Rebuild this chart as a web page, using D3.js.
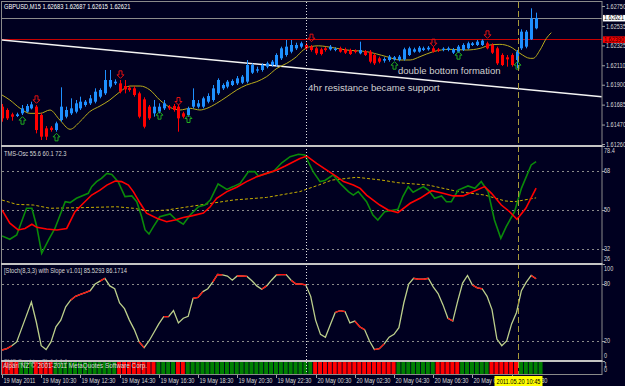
<!DOCTYPE html>
<html>
<head>
<meta charset="utf-8">
<script src="https://cdn.jsdelivr.net/npm/d3@7"></script>
<style>
  body { margin: 0; background: #000020; }
  svg { display: block; font-family: "Liberation Sans", Arial, sans-serif; }
</style>
</head>
<body>
<div id="wrapper"></div>
<script>
// GBPUSD M15 bars, 19 May 2011 08:30 .. 20 May 2011 11:45
const opens = [1.61663,1.61627,1.61580,1.61562,1.61591,1.61609,1.61645,1.61663,1.61573,1.61429,
  1.61436,1.61411,1.61519,1.61555,1.61591,1.61609,1.61645,1.61681,1.61699,1.61717,
  1.61771,1.61807,1.61879,1.61915,1.61915,1.61886,1.61868,1.61861,1.61807,1.61742,
  1.61663,1.61591,1.61609,1.61645,1.61663,1.61670,1.61663,1.61591,1.61573,1.61663,
  1.61663,1.61663,1.61717,1.61735,1.61807,1.61861,1.61879,1.61897,1.61915,1.61922,
  1.61933,1.62030,1.62052,1.62059,1.62095,1.62113,1.62113,1.62185,1.62221,1.62257,
  1.62293,1.62311,1.62329,1.62311,1.62293,1.62282,1.62293,1.62282,1.62275,1.62293,
  1.62282,1.62275,1.62268,1.62239,1.62264,1.62257,1.62221,1.62185,1.62160,1.62167,
  1.62174,1.62167,1.62174,1.62221,1.62257,1.62257,1.62275,1.62282,1.62293,1.62282,
  1.62275,1.62275,1.62246,1.62257,1.62275,1.62293,1.62329,1.62329,1.62329,1.62347,
  1.62329,1.62293,1.62221,1.62196,1.62221,1.62167,1.62293,1.62311,1.62390,1.62509]
const highs = [1.61692,1.61645,1.61598,1.61598,1.61681,1.61692,1.61717,1.61681,1.61591,1.61454,
  1.61454,1.61501,1.61872,1.61663,1.61753,1.61735,1.61771,1.61735,1.61789,1.61861,
  1.61861,1.62059,1.62059,1.61958,1.61951,1.61951,1.61886,1.61886,1.61825,1.61764,
  1.61681,1.61735,1.61699,1.61735,1.61681,1.61692,1.61681,1.61609,1.61663,1.61861,
  1.61735,1.61771,1.61807,1.61897,1.61969,1.61915,1.61951,1.61958,1.61994,1.62005,
  1.62167,1.62131,1.62095,1.62131,1.62149,1.62167,1.62239,1.62311,1.62383,1.62383,
  1.62354,1.62365,1.62354,1.62329,1.62311,1.62300,1.62311,1.62329,1.62304,1.62311,
  1.62300,1.62289,1.62282,1.62365,1.62275,1.62275,1.62239,1.62203,1.62196,1.62221,
  1.62210,1.62221,1.62300,1.62311,1.62300,1.62318,1.62311,1.62318,1.62311,1.62297,
  1.62304,1.62311,1.62297,1.62329,1.62347,1.62365,1.62361,1.62383,1.62390,1.62365,
  1.62347,1.62311,1.62239,1.62221,1.62239,1.62275,1.62498,1.62491,1.62725,1.62678]
const lows = [1.61501,1.61519,1.61512,1.61551,1.61573,1.61598,1.61634,1.61375,1.61303,1.61303,
  1.61393,1.61393,1.61501,1.61537,1.61573,1.61591,1.61627,1.61663,1.61681,1.61699,
  1.61753,1.61789,1.61861,1.61897,1.61807,1.61807,1.61825,1.61771,1.61537,1.61429,
  1.61519,1.61555,1.61591,1.61627,1.61627,1.61609,1.61393,1.61537,1.61555,1.61645,
  1.61645,1.61645,1.61699,1.61717,1.61789,1.61843,1.61861,1.61886,1.61897,1.61908,
  1.61915,1.62016,1.62030,1.62041,1.62077,1.62095,1.62095,1.62167,1.62203,1.62239,
  1.62275,1.62293,1.62275,1.62257,1.62221,1.62217,1.62257,1.62268,1.62261,1.62246,
  1.62232,1.62221,1.62239,1.62228,1.62210,1.62131,1.62113,1.62131,1.62138,1.62149,
  1.62160,1.62153,1.62160,1.62210,1.62246,1.62246,1.62264,1.62268,1.62246,1.62253,
  1.62261,1.62261,1.62232,1.62246,1.62264,1.62282,1.62318,1.62318,1.62318,1.62282,
  1.62232,1.62113,1.62102,1.62095,1.62095,1.62077,1.62275,1.62293,1.62383,1.62498]
const closes = [1.61537,1.61537,1.61555,1.61580,1.61645,1.61670,1.61688,1.61411,1.61339,1.61339,
  1.61411,1.61483,1.61663,1.61627,1.61645,1.61699,1.61717,1.61717,1.61753,1.61825,
  1.61843,1.61951,1.61951,1.61933,1.61825,1.61850,1.61843,1.61789,1.61555,1.61447,
  1.61537,1.61663,1.61663,1.61699,1.61645,1.61627,1.61537,1.61555,1.61645,1.61735,
  1.61699,1.61753,1.61778,1.61861,1.61951,1.61897,1.61933,1.61940,1.61969,1.61987,
  1.62113,1.62113,1.62066,1.62113,1.62131,1.62149,1.62221,1.62293,1.62311,1.62329,
  1.62329,1.62347,1.62293,1.62275,1.62239,1.62232,1.62275,1.62311,1.62289,1.62257,
  1.62246,1.62232,1.62253,1.62275,1.62221,1.62149,1.62131,1.62149,1.62178,1.62203,
  1.62196,1.62203,1.62282,1.62293,1.62282,1.62300,1.62293,1.62300,1.62257,1.62268,
  1.62289,1.62293,1.62282,1.62311,1.62329,1.62347,1.62347,1.62365,1.62376,1.62293,
  1.62246,1.62131,1.62113,1.62174,1.62113,1.62257,1.62473,1.62473,1.62617,1.62621]

// moving average, read as [bar, price]
const maPoints = [[0,1.61789],[1.6,1.61735],[3.7,1.61645],[5.7,1.61591],[7.8,1.61591],[9.8,1.61627],
  [11.8,1.61519],[13.9,1.61419],[15.9,1.61501],[17.9,1.61609],[20,1.61670],[22,1.61735],[24.1,1.61825],
  [26.1,1.61886],[28.2,1.61886],[30.2,1.61843],[32.2,1.61735],[34.3,1.61656],[36.3,1.61627],[38.4,1.61645],
  [40.4,1.61627],[41.8,1.61645],[43.8,1.61699],[45.9,1.61771],[47.9,1.61843],[49.9,1.61897],[52,1.61933],
  [54,1.61987],[56.1,1.62077],[58.1,1.62131],[60.1,1.62203],[61.5,1.62275],[62.9,1.62311],[64.6,1.62320],
  [66.3,1.62311],[68.3,1.62293],[70.3,1.62275],[74.4,1.62257],[78.5,1.62203],[81.2,1.62167],[83.3,1.62167],
  [85.3,1.62203],[88,1.62257],[91.4,1.62282],[94.8,1.62275],[97.6,1.62293],[99.6,1.62329],[101.6,1.62336],
  [103.7,1.62311],[105.7,1.62239],[107.8,1.62185],[108.4,1.62185],[109.8,1.62275],[111.1,1.62401],[112.1,1.62462]]

// signal arrows [bar, price at arrow tip]
const upArrows = [[4,1.61555],[11,1.61375],[32,1.61609],[38,1.61573],[80,1.62149],[93,1.62257],[105,1.62149]]
const downArrows = [[7,1.61699],[24,1.61969],[36,1.61681],[63,1.62365],[88,1.62311],[99,1.62401]]

// hand drawn objects
const trendLine = [[0,1.62383],[122.4,1.61771]]
const redLevel = 1.62390
const bidPrice = 1.62621
const priceTicks = [1.62750,1.62535,1.62325,1.62110,1.61900,1.61685,1.61470,1.61260]

// TMS oscillator, [bar, value]
const tmsGreen = [[0,38],[1.6,36.5],[3,38.5],[5,50.8],[6.1,50.8],[7.1,42.3],[8.1,30],[9.5,36.2],[10.8,41.5],
  [12.9,53.8],[13.9,53.4],[15.2,55.4],[17.6,57.7],[18.3,60.8],[19.3,63.1],[20.3,64.6],[21.4,66.9],[22.4,66.4],
  [23.7,63.1],[25.1,56.2],[26.5,56.5],[27.5,53.8],[28.5,46.9],[29.2,40.8],[30,38.9],[30.9,42.3],[32.2,46.9],
  [34.3,48.2],[35.6,45.4],[37,43.4],[38.4,47.7],[40.1,51.5],[41.4,52.3],[42.5,54.6],[44.1,62],[45.9,59.5],
  [47.2,60.8],[48.6,62.3],[50.3,67.7],[51.6,67.7],[52.3,65.7],[54,66.9],[55.4,67.7],[57.1,71.8],[58.8,74.6],
  [60.5,75.7],[61.8,75.4],[63.5,67.7],[64.9,63.1],[65.9,63.6],[67.6,66.2],[69,62.3],[70.7,58.5],[71.7,56.9],
  [72.7,58.5],[74.4,53.8],[75.7,47.7],[76.7,45.4],[78.1,49.2],[80.8,50.3],[81.8,56.2],[82.9,60.8],[83.9,58.2],
  [86,60.8],[87,59.2],[88.3,55.4],[89.7,56.5],[90.7,53.8],[91.7,53.8],[93.1,59.2],[95.1,61.1],[96.5,60],
  [97.8,63.1],[99.2,58.5],[100.5,45.4],[101.8,36.9],[102.9,42.3],[104.6,49.2],[106,60],[108,70.8],[109,72.3]]
const tmsRed = [[0,50],[1.6,43.9],[3.3,40.8],[4.7,41.5],[6.1,43.4],[7.1,42],[9.1,41.2],[11.2,40.8],[13.2,41.5],
  [14.9,49.2],[16.6,53.1],[18.3,56.9],[20,59.2],[21.4,61.5],[23.1,63.4],[24.4,63.1],[25.8,61.5],[26.8,58.5],
  [28.2,53.1],[29.5,48.5],[31.6,46.2],[33.6,44.6],[35.3,45.4],[37,46.5],[38.7,47.3],[41.1,48.6],[42.5,51.5],
  [43.8,55.4],[45.9,58.5],[47.9,60.5],[49.9,63.1],[52,65.4],[54,66.9],[56.1,68.5],[57.8,70.3],[59.5,72.3],
  [60.8,73.8],[62.2,74.9],[64.2,71.5],[66.2,68.5],[68.3,65.4],[69.7,63.1],[71.7,61.5],[73.1,60],[74.4,56.9],
  [77.1,52.3],[78.8,50],[80.8,48.8],[83.3,53.1],[85.3,55.4],[87.7,58.9],[90,57.7],[92.1,56.5],[94.1,56.5],
  [96.2,58.5],[98.5,60.8],[99.9,57.7],[101.9,52.3],[103.6,49.2],[105.1,45.7],[106.9,50.8],[109,60.1]]
const tmsSignal = [[0,54.6],[3,52.6],[6.4,52.3],[9.8,50.8],[16.6,51.1],[23.4,51.5],[26.8,50.8],[30.2,49.5],
  [33.6,50],[40.4,52.3],[47.2,54.6],[54,55.8],[60.8,58.5],[64.6,61.5],[67.3,63.8],[72.4,65.1],[77.5,63.8],
  [80.8,62.6],[87,61.5],[93.1,58.5],[98.5,56.9],[102.6,54.2],[104.6,53.8],[109,55.6]]
const tmsTicks = [68, 50, 32]

// Stochastic(8,3,3), one value per bar
const stoch = [10.5,12,15,19,33,47,61,40,15,11,19,35,42,56,63,67,69,71,73,80,
  83,86,78,75,60,54,42,32,19,13,20,29,38,45.6,45.6,52,39,44,46,65,
  66,72,75,82,90,89.5,88.4,84,88.4,88.4,88,83.4,78,74.4,78,84,89.5,89.8,89.8,84,
  80,80,79,67,42,27,24,37,50,52,51,39,41,35,32,20,11,12,17,24,
  27,34,60,80,86,85,85,86,77,70,58,44,41,62,81,89,79,76,75,67,
  53,22,15,20,38,50,73,82,89,85.5]
// bar ranges where the slope colour turns red
const stochRed = [[0,2],[14,18],[20,21],[28,29],[33,34],[39,41],[43,45],[48,50],[53,54],[56,58],[59,62],
  [68,70],[72,74],[76,78],[84,87],[91,92],[96,98],[108,109]]
const stochTicks = [80, 20]

// TMS Combine TL state per bar: R = down, G = up
const trendState = "RRRRGGGRRRRGGGGGGGGGGGGGRRRRRRRRGGGGRRGGGGGGGGGGGGGGGGGGGGGGGGGGRRRRRRRRRRRRRRRRRGGGGGGGGRRRRRGGGGGGRRRRRRGGGGG".split("")

const tickBars = [0,8,16,24,32,40,48,56,64,72,80,88,96,104]
const tickLabels = ["19 May 2011","19 May 10:30","19 May 12:30","19 May 14:30","19 May 16:30","19 May 18:30",
  "19 May 20:30","19 May 22:30","20 May 00:30","20 May 02:30","20 May 04:30","20 May 06:30","20 May 08:30","20 May 10:30"]
const dayBreakBar = 62
const cursorBar = 105
const cursorLabel = "2011.05.20 10:45"

function drawChart() {
  const dimensions = { width: 625, height: 386, left: 2, right: 602 }
  const panels = {
    main:  { top: 2,   bottom: 145 },
    tms:   { top: 147, bottom: 263 },
    stoch: { top: 265, bottom: 360 },
    hist:  { top: 362, bottom: 374 },
  }
  const bull = "#1e90ff", bear = "#ff0000"
  const textColor = "#d8d8d8"

  const wrapper = d3.select("#wrapper")
    .append("svg")
      .attr("width", dimensions.width)
      .attr("height", dimensions.height)

  wrapper.append("rect")
      .attr("width", dimensions.width)
      .attr("height", dimensions.height)
      .attr("fill", "#000020")

  // scales
  const xScale = d3.scaleLinear().domain([0, 109]).range([2, 536.1])
  const yPrice = d3.scaleLinear().domain([1.6126, 1.6275]).range([144, 6])
  const yTms = d3.scaleLinear().domain([32, 68]).range([249, 171])
  const yStoch = d3.scaleLinear().domain([0, 100]).range([360, 265])
  const yHist = d3.scaleLinear().domain([0, 1]).range([374, 362])
  const px = i => Math.round(xScale(i)) + 0.5

  const defs = wrapper.append("defs")
  const layer = {}
  Object.entries(panels).forEach(([name, p]) => {
    defs.append("clipPath").attr("id", "clip-" + name)
      .append("rect")
        .attr("x", dimensions.left)
        .attr("y", p.top)
        .attr("width", dimensions.right - dimensions.left)
        .attr("height", p.bottom - p.top)
    layer[name] = wrapper.append("g").attr("clip-path", `url(#clip-${name})`)
  })

  const squeeze = (sel, k) => sel.each(function() {
    const w = this.getComputedTextLength()
    d3.select(this).attr("textLength", w * k).attr("lengthAdjust", "spacingAndGlyphs")
  })

  // grid lines in the oscillator panels
  layer.tms.selectAll(".grid").data(tmsTicks).join("line")
      .attr("x1", dimensions.left).attr("x2", dimensions.right)
      .attr("y1", d => Math.round(yTms(d)) + 0.5).attr("y2", d => Math.round(yTms(d)) + 0.5)
      .attr("stroke", "#8a8a8a").attr("stroke-dasharray", "2,3")
  layer.stoch.selectAll(".grid").data(stochTicks).join("line")
      .attr("x1", dimensions.left).attr("x2", dimensions.right)
      .attr("y1", d => Math.round(yStoch(d)) + 0.5).attr("y2", d => Math.round(yStoch(d)) + 0.5)
      .attr("stroke", "#8a8a8a").attr("stroke-dasharray", "2,3")

  // price lines
  layer.main.append("line")
      .attr("x1", dimensions.left).attr("x2", dimensions.right)
      .attr("y1", Math.round(yPrice(bidPrice)) + 0.5).attr("y2", Math.round(yPrice(bidPrice)) + 0.5)
      .attr("stroke", "#8c8c8c")
  layer.main.append("line")
      .attr("x1", dimensions.left).attr("x2", dimensions.right)
      .attr("y1", Math.round(yPrice(redLevel)) + 0.5).attr("y2", Math.round(yPrice(redLevel)) + 0.5)
      .attr("stroke", "#c80000")

  // trend line
  layer.main.append("line")
      .attr("x1", xScale(trendLine[0][0])).attr("y1", yPrice(trendLine[0][1]))
      .attr("x2", xScale(trendLine[1][0])).attr("y2", yPrice(trendLine[1][1]))
      .attr("stroke", "#f4f4f4").attr("stroke-width", 1.6)

  // moving average
  const maLine = d3.line()
    .x(d => xScale(d[0]))
    .y(d => yPrice(d[1]))
    .curve(d3.curveMonotoneX)
  layer.main.append("path")
      .attr("d", maLine(maPoints))
      .attr("fill", "none").attr("stroke", "#b8aa1c").attr("stroke-width", 1)

  // candles
  const candles = opens.map((o, i) => ({ i, o, h: highs[i], l: lows[i], c: closes[i] }))
  layer.main.selectAll(".wick").data(candles).join("line")
      .attr("x1", d => px(d.i)).attr("x2", d => px(d.i))
      .attr("y1", d => yPrice(d.h)).attr("y2", d => yPrice(d.l))
      .attr("stroke", d => d.c >= d.o ? bull : bear)
  layer.main.selectAll(".body").data(candles).join("rect")
      .attr("x", d => px(d.i) - 1.5)
      .attr("width", 3)
      .attr("y", d => yPrice(Math.max(d.o, d.c)))
      .attr("height", d => Math.max(1, yPrice(Math.min(d.o, d.c)) - yPrice(Math.max(d.o, d.c))))
      .attr("fill", d => d.c >= d.o ? bull : bear)

  // arrows
  const arrowPath = s =>
    `M0,0 L3.5,${3.5 * s} L1.5,${3.5 * s} L1.5,${7.5 * s} L-1.5,${7.5 * s} L-1.5,${3.5 * s} L-3.5,${3.5 * s} Z`
  layer.main.selectAll(".up").data(upArrows).join("path")
      .attr("transform", d => `translate(${px(d[0])},${yPrice(d[1])})`)
      .attr("d", arrowPath(1))
      .attr("fill", "none").attr("stroke", "#1fa81f").attr("stroke-width", 1)
  layer.main.selectAll(".down").data(downArrows).join("path")
      .attr("transform", d => `translate(${px(d[0])},${yPrice(d[1])})`)
      .attr("d", arrowPath(-1))
      .attr("fill", "none").attr("stroke", "#e01010").attr("stroke-width", 1)

  // annotations
  layer.main.append("text")
      .attr("x", 398).attr("y", 74)
      .attr("font-size", 9.5).attr("fill", "#cfcfcf")
      .text("double bottom formation")
  layer.main.append("text")
      .attr("x", 308).attr("y", 91)
      .attr("font-size", 9.6).attr("fill", "#cfcfcf")
      .text("4hr resistance became support")

  // TMS oscillator
  const tmsLine = d3.line().x(d => xScale(d[0])).y(d => yTms(d[1]))
  layer.tms.append("path").attr("d", tmsLine(tmsSignal))
      .attr("fill", "none").attr("stroke", "#c8b000").attr("stroke-dasharray", "3,2")
  layer.tms.append("path").attr("d", tmsLine(tmsGreen))
      .attr("fill", "none").attr("stroke", "#0a8a0a").attr("stroke-width", 1.6)
  layer.tms.append("path").attr("d", tmsLine(tmsRed))
      .attr("fill", "none").attr("stroke", "#ff0000").attr("stroke-width", 1.6)

  // stochastic
  const stochLine = d3.line().x(d => xScale(d[0])).y(d => yStoch(d[1]))
  const stochData = stoch.map((v, i) => [i, v])
  layer.stoch.append("path").attr("d", stochLine(stochData))
      .attr("fill", "none").attr("stroke", "#bccf8c").attr("stroke-width", 1.3)
  layer.stoch.selectAll(".red").data(stochRed).join("path")
      .attr("d", r => stochLine(stochData.slice(r[0], r[1] + 1)))
      .attr("fill", "none").attr("stroke", "#ff1010").attr("stroke-width", 1.3)

  // trend state histogram
  const barW = xScale(1) - xScale(0)
  layer.hist.selectAll(".bar").data(trendState).join("rect")
      .attr("x", (d, i) => xScale(i) - barW / 2)
      .attr("width", barW - 0.9)
      .attr("y", yHist(1)).attr("height", yHist(0) - yHist(1))
      .attr("fill", d => d === "R" ? "#ff0000" : "#008000")

  // vertical markers
  wrapper.append("line")
      .attr("x1", px(dayBreakBar)).attr("x2", px(dayBreakBar))
      .attr("y1", 2).attr("y2", 374)
      .attr("stroke", "#e0e0e0").attr("stroke-dasharray", "1,2")
  wrapper.append("line")
      .attr("x1", px(cursorBar) + 1).attr("x2", px(cursorBar) + 1)
      .attr("y1", 2).attr("y2", 374)
      .attr("stroke", "#a89a3a").attr("stroke-dasharray", "6,3")

  // frame and panel separators
  wrapper.append("rect")
      .attr("x", 1.5).attr("y", 1.5).attr("width", 600.5).attr("height", 373)
      .attr("fill", "none").attr("stroke", "#8a8a8a")
  ;[[145, 147], [263, 265], [360, 362]].forEach(([a, b]) => {
    wrapper.append("rect").attr("x", 1).attr("y", a).attr("width", 601.5).attr("height", b - a)
      .attr("fill", "#c4c4c4")
  })

  // panel titles
  squeeze(wrapper.append("text").attr("x", 4).attr("y", 8.5)
      .attr("font-size", 7).attr("fill", "#ffffff")
      .text("GBPUSD,M15  1.62683 1.62687 1.62615 1.62621"), 0.82)
  squeeze(wrapper.append("text").attr("x", 4).attr("y", 156)
      .attr("font-size", 7).attr("fill", textColor)
      .text("TMS-Osc 55.6 60.1 72.3"), 0.82)
  squeeze(wrapper.append("text").attr("x", 4).attr("y", 273)
      .attr("font-size", 7).attr("fill", textColor)
      .text("[Stoch(8,3,3) with Slope v1.01] 85.5293 86.1714"), 0.82)
  squeeze(wrapper.append("text").attr("x", 4).attr("y", 364)
      .attr("font-size", 7).attr("fill", "#d0d0d0").attr("opacity", 0.55)
      .text("TMS Combine TL 1.1 1.1"), 0.82)
  wrapper.append("text").attr("x", 3).attr("y", 368)
      .attr("font-size", 7).attr("fill", "#d8d8d8")
      .attr("textLength", 144).attr("lengthAdjust", "spacingAndGlyphs")
      .text("Alpari NZ © 2001-2011 MetaQuotes Software Corp.")

  // right price axis
  const priceAxis = d3.axisRight(yPrice)
    .tickValues(priceTicks)
    .tickFormat(d3.format(".5f"))
    .tickSize(3).tickPadding(1)
  const pa = wrapper.append("g")
      .attr("transform", `translate(${dimensions.right},0)`)
      .call(priceAxis)
  pa.select(".domain").remove()
  pa.selectAll("line").attr("stroke", "#a0a0a0")
  pa.selectAll("text").attr("fill", textColor).attr("font-size", 6.5)
    .attr("font-family", "Liberation Sans, Arial, sans-serif")
  squeeze(pa.selectAll("text"), 0.85)

  // price tags
  const tag = (price, bg, fg) => {
    const y = yPrice(price)
    wrapper.append("rect").attr("x", 603).attr("y", y - 3).attr("width", 22).attr("height", 6.5).attr("fill", bg)
    squeeze(wrapper.append("text").attr("x", 604).attr("y", y + 2.5)
        .attr("font-size", 6.5).attr("fill", fg).text(d3.format(".5f")(price)), 0.85)
  }
  tag(bidPrice, "#ffffff", "#000000")
  tag(redLevel, "#ff0000", "#300000")

  // oscillator scale labels
  const sideLabel = (y, t) => squeeze(wrapper.append("text").attr("x", 604).attr("y", y + 2.3)
      .attr("font-size", 6.5).attr("fill", textColor).text(t), 0.85)
  sideLabel(151, "78.4")
  tmsTicks.forEach(v => sideLabel(yTms(v), String(v)))
  sideLabel(259, "26")
  sideLabel(268.5, "100")
  stochTicks.forEach(v => sideLabel(yStoch(v), String(v)))
  sideLabel(356, "0")
  sideLabel(365, "1")
  sideLabel(370, "0")
  ;[yTms(68), yTms(50), yTms(32), yStoch(80), yStoch(20), 146, 264, 361].forEach(y => {
    wrapper.append("line").attr("x1", 602).attr("x2", 605)
      .attr("y1", Math.round(y) + 0.5).attr("y2", Math.round(y) + 0.5).attr("stroke", "#a0a0a0")
  })

  // time axis
  const ta = wrapper.append("g")
  ta.selectAll("line").data(tickBars).join("line")
      .attr("x1", d => px(d)).attr("x2", d => px(d))
      .attr("y1", 375).attr("y2", 378)
      .attr("stroke", "#a0a0a0")
  squeeze(ta.selectAll("text").data(tickBars).join("text")
      .attr("x", d => px(d) + 1).attr("y", 382.5)
      .attr("font-size", 7).attr("fill", textColor)
      .text((d, i) => tickLabels[i]), 0.8)

  // cursor time tag
  const cx = px(cursorBar) + 1
  wrapper.append("rect").attr("x", cx - 24).attr("y", 376).attr("width", 48).attr("height", 10)
      .attr("fill", "#ffff00")
  wrapper.append("text").attr("x", cx).attr("y", 383.5)
      .attr("text-anchor", "middle").attr("font-size", 7).attr("fill", "#000000")
      .attr("textLength", 44).attr("lengthAdjust", "spacingAndGlyphs")
      .text(cursorLabel)
}
drawChart()
</script>
</body>
</html>
